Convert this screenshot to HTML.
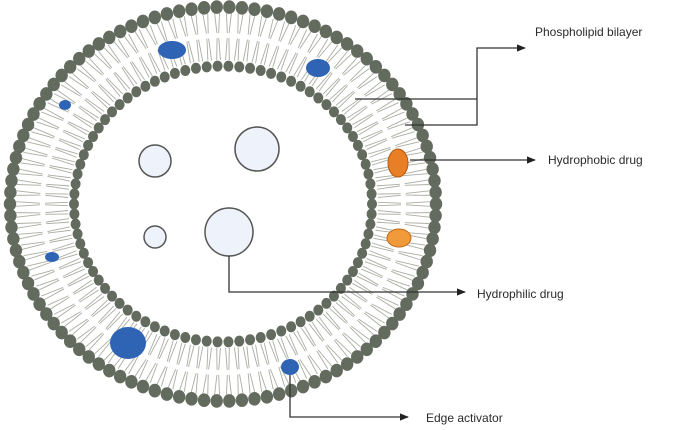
<!DOCTYPE html>
<html><head><style>
html,body{margin:0;padding:0;background:#fff;width:689px;height:430px;overflow:hidden}
text{font-family:"Liberation Sans",sans-serif;font-size:12px;fill:#2a2a2a}
</style></head><body>
<svg id="s" width="689" height="430" viewBox="0 0 689 430" xmlns="http://www.w3.org/2000/svg">
<defs><marker id="a" viewBox="0 0 10 10" refX="9" refY="5" markerWidth="7" markerHeight="7" orient="auto"><path d="M0,1 L10,5 L0,9 z" fill="#222"/></marker></defs>
<g id="tails" stroke="#a9ada1" stroke-width="0.9" fill="none"></g>
<g id="heads" fill="#636a5e"></g>
<g fill="#2f64b5">
<ellipse cx="172" cy="50" rx="14" ry="9"/>
<ellipse cx="318" cy="68" rx="12" ry="9"/>
<ellipse cx="65" cy="105" rx="6" ry="5"/>
<ellipse cx="52" cy="257" rx="7" ry="5"/>
<ellipse cx="128" cy="343" rx="18" ry="16"/>
<ellipse cx="290" cy="367" rx="9" ry="8"/>
</g>
<ellipse cx="398" cy="163" rx="10" ry="14" fill="#e87e26" stroke="#b55a10"/>
<ellipse cx="399" cy="238" rx="12" ry="9" fill="#f19a3a" stroke="#c06a18"/>
<g fill="#eef3fb" stroke="#555" stroke-width="1.5">
<circle cx="155" cy="161" r="16"/>
<circle cx="257" cy="149" r="22"/>
<circle cx="155" cy="237" r="11"/>
<circle cx="229" cy="232" r="24"/>
</g>
<g stroke="#333" stroke-width="1.3" fill="none">
<path d="M355,99 H477"/>
<path d="M405,125 H477 V48 H525" marker-end="url(#a)"/>
<path d="M410,160 H535" marker-end="url(#a)"/>
<path d="M229,256 V292 H465" marker-end="url(#a)"/>
<path d="M290,375 V417 H408" marker-end="url(#a)"/>
</g>
<text x="535" y="36">Phospholipid bilayer</text>
<text x="548" y="164">Hydrophobic drug</text>
<text x="477" y="298">Hydrophilic drug</text>
<text x="426" y="422">Edge activator</text>
</svg>
<script>
var ns="http://www.w3.org/2000/svg",H=document.getElementById("heads"),T=document.getElementById("tails");
var cx=223,cy=204;
function ring(rx,ry,n,r){for(var i=0;i<n;i++){var t=i/n*2*Math.PI;var c=document.createElementNS(ns,"ellipse");c.setAttribute("cx",cx+rx*Math.cos(t));c.setAttribute("cy",cy+ry*Math.sin(t));c.setAttribute("rx",r);c.setAttribute("ry",r*1.1);H.appendChild(c);}}
ring(213,197,106,6.2);ring(149,138,86,5);
for(var i=0;i<110;i++){var t=i/110*2*Math.PI;
 [[207,191,183,171],[155,144,178,166]].forEach(function(p,k){for(var d=-1;d<=1;d+=2){var l=document.createElementNS(ns,"line");var o=d*0.012;
 l.setAttribute("x1",cx+p[0]*Math.cos(t+o));l.setAttribute("y1",cy+p[1]*Math.sin(t+o));l.setAttribute("x2",cx+p[2]*Math.cos(t+o*0.4));l.setAttribute("y2",cy+p[3]*Math.sin(t+o*0.4));T.appendChild(l);}});}
</script>
</body></html>
